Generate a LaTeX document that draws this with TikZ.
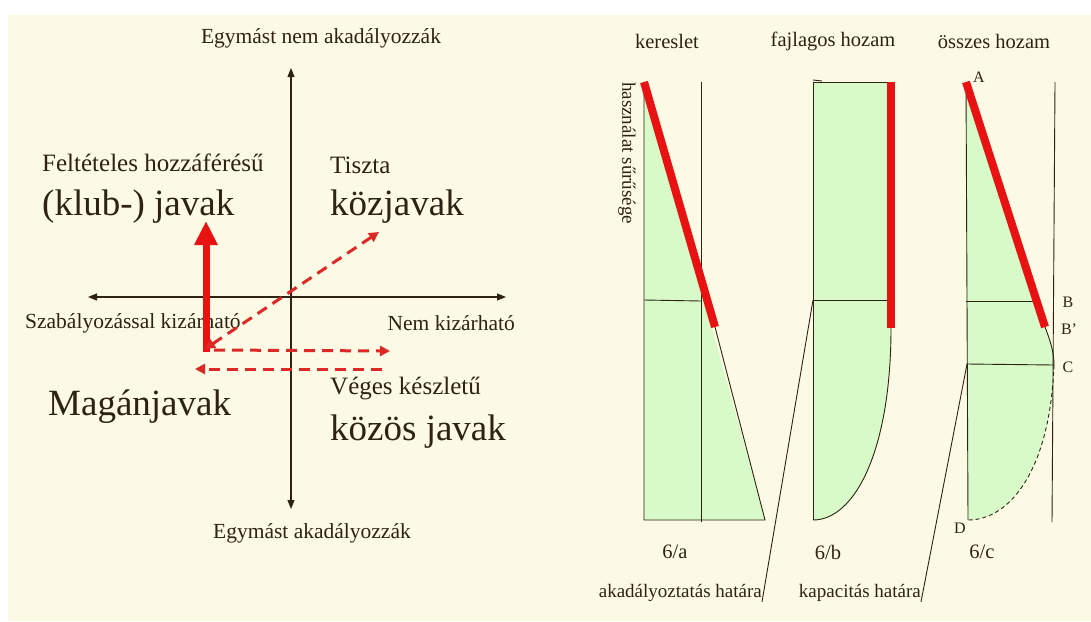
\documentclass[tikz,border=0pt]{standalone}
\usepackage{fontspec}
\setmainfont{Liberation Serif}
\usetikzlibrary{arrows.meta}
\definecolor{bg}{RGB}{252,249,228}
\definecolor{ink}{RGB}{45,35,20}
\definecolor{fillg}{RGB}{216,250,200}
\definecolor{redc}{RGB}{232,18,18}
\definecolor{dred}{RGB}{222,40,40}
\begin{document}
\begin{tikzpicture}[x=1pt,y=-1pt,
  axis/.style={draw=ink, line width=1.1pt, {Triangle[length=9pt,width=7pt]}-{Triangle[length=9pt,width=7pt]}},
  reddash/.style={draw=dred, line width=3pt, dash pattern=on 11pt off 7pt},
  rtip/.style={-{Triangle[length=10pt,width=10pt]}},
  thinln/.style={draw=ink, line width=0.9pt},
  redline/.style={draw=redc, line width=8pt},
  lab/.style={text=ink, inner sep=0pt, font=\fontsize{21.5}{24}\selectfont},
  midlab/.style={text=ink, inner sep=0pt, font=\fontsize{25}{28}\selectfont},
  biglab/.style={text=ink, inner sep=0pt, font=\fontsize{37}{40}\selectfont},
  rlab/.style={text=ink, inner sep=0pt, font=\fontsize{20.5}{23}\selectfont},
  slab/.style={text=ink, inner sep=0pt, font=\fontsize{19}{22}\selectfont},
  letlab/.style={text=ink, inner sep=0pt, font=\fontsize{16}{18}\selectfont}]
\useasboundingbox (0,0) rectangle (1091,621);
\fill[white] (0,0) rectangle (1091,621);
\fill[bg] (8,15) rectangle (1091,621);

% ---------- left: axes ----------
\coordinate (xl) at (88,297);
\coordinate (xr) at (506,297);
\coordinate (yt) at (291,68);
\coordinate (yb) at (291,509);
\draw[axis] (xl) -- (xr);
\draw[axis] (yt) -- (yb);

\node[lab] (top) at (321,38) {Egymást nem akadályozzák};
\node[lab] (bot) at (312,533) {Egymást akadályozzák};
\node[lab, anchor=west] (szab) at (25,323) {Szabályozással kizárható};
\node[lab, anchor=east] (nemk) at (515,323) {Nem kizárható};

\node[midlab, anchor=west] (felt) at (42,163) {Feltételes hozzáférésű};
\node[biglab, anchor=west] (klub) at (42,207) {(klub-) javak};
\node[midlab, anchor=west] (tisz) at (330,165) {Tiszta};
\node[biglab, anchor=west] (kozj) at (330,207) {közjavak};
\node[biglab, anchor=west] (magan) at (48,407) {Magánjavak};
\node[midlab, anchor=west] (veges) at (330,388) {Véges készletű};
\node[biglab, anchor=west] (kozos) at (330,432) {közös javak};

% red arrows
\coordinate (rs) at (206,352);
\coordinate (rt) at (206,221);
\draw[draw=redc, line width=7pt, -{Triangle[length=24pt,width=22pt]}] (rs) -- (rt);
\coordinate (d1) at (205,349);
\coordinate (d2) at (379,232);
\draw[reddash, {Triangle[length=10pt,width=10pt]}-{Triangle[length=10pt,width=10pt]}] (d1) -- (d2);
\coordinate (h1a) at (214,350);
\coordinate (h1b) at (390,351);
\draw[reddash, rtip] (h1a) -- (h1b);
\coordinate (h2a) at (382,369);
\coordinate (h2b) at (195,369);
\draw[reddash, rtip] (h2a) -- (h2b);

% ---------- right: titles ----------
\node[rlab] (t1) at (667,41) {kereslet};
\node[rlab] (t2) at (833,41) {fajlagos hozam};
\node[rlab] (t3) at (994,41) {összes hozam};

% ---------- panel 6/a ----------
\coordinate (a1) at (644,82);
\coordinate (a2) at (715,327);
\coordinate (a3) at (765,520);
\coordinate (a4) at (644,520);
\fill[fillg] (a1) -- (a3) -- (a4) -- cycle;
\coordinate (ai1) at (701,82);
\coordinate (ai2) at (701,522);
\coordinate (ah2) at (701,301);
\coordinate (ah1) at (644,300);
\draw[thinln] (a1) -- (a4) -- (a3) -- (a2);
\draw[thinln] (ai1) -- (ai2);
\draw[thinln] (ah1) -- (ah2);
\draw[redline] (a1) -- (a2);
\node[slab, rotate=-90, anchor=west] (hasz) at (627,82) {használat sűrűsége};
\node[rlab] (la) at (675,552) {6/a};

% ---------- panel 6/b ----------
\coordinate (b1) at (813,82);
\coordinate (b2) at (891,82);
\coordinate (b3) at (891,328);
\coordinate (b4) at (813,520);
\coordinate (bh1) at (813,300);
\coordinate (bh2) at (891,300);
\fill[fillg] (b1) -- (b2) -- (b3) .. controls (891,450) and (855,520) .. (b4) -- cycle;
\draw[thinln] (b2) -- (b1) -- (b4);
\draw[thinln] (b3) .. controls (891,450) and (855,520) .. (b4);
\draw[thinln] (bh1) -- (bh2);
\coordinate (bk1) at (813,80);
\coordinate (bk2) at (822,81);
\draw[thinln] (bk1) -- (bk2);
\draw[redline] (b2) -- (b3);
\node[rlab] (lb) at (828,552) {6/b};

% ---------- panel 6/c ----------
\coordinate (A) at (966,82);
\coordinate (Bp) at (1045,327);
\coordinate (C) at (1054,365);
\coordinate (D) at (968,520);
\coordinate (cr1) at (1055,82);
\coordinate (cr2) at (1052,522);
\coordinate (cb1) at (966,301);
\coordinate (cb2) at (1036,301);
\coordinate (cc1) at (967,364);
\fill[fillg] (A) -- (Bp) .. controls (1050,340) and (1054,352) .. (C)
   .. controls (1050,470) and (1010,520) .. (D) -- cycle;
\draw[thinln] (A) -- (D);
\draw[thinln] (cr1) -- (cr2);
\draw[thinln] (cb1) -- (cb2);
\draw[thinln] (cc1) -- (C);
\draw[thinln] (Bp) .. controls (1050,340) and (1054,352) .. (C);
\draw[thinln, dashed, dash pattern=on 4pt off 3pt] (C) .. controls (1050,470) and (1010,520) .. (D);
\draw[redline] (A) -- (Bp);
\node[letlab] (lA) at (979,77) {A};
\node[letlab] (lB) at (1068,302) {B};
\node[letlab] (lBp) at (1069,329) {B’};
\node[letlab] (lC) at (1068,367) {C};
\node[letlab] (lD) at (960,528) {D};
\node[rlab] (lc) at (982,552) {6/c};

% ---------- bottom labels ----------
\node[slab, anchor=east] (akad) at (762,593) {akadályoztatás határa};
\node[slab, anchor=east] (kap) at (921,593) {kapacitás határa};
\draw[thinln] (akad.south east) -- (bh1);
\draw[thinln] (kap.south east) -- (cc1);
\end{tikzpicture}
\end{document}
